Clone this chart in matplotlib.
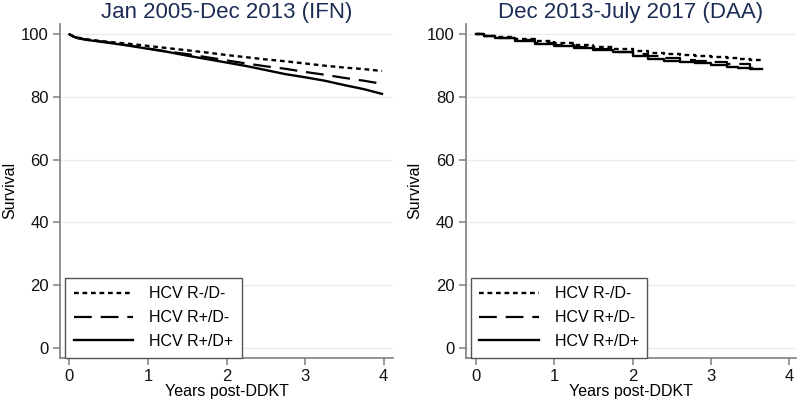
import matplotlib
matplotlib.use("Agg")
import matplotlib.pyplot as plt

plt.rcParams["font.family"] = ["Liberation Sans", "DejaVu Sans"]

# Kaplan-Meier survival (years, survival %)
ifn_t = [0, 0.05, 0.1, 0.2, 0.35, 0.5, 0.75, 1.0, 1.25, 1.5, 1.75, 2.0, 2.25, 2.5, 2.75, 3.0, 3.25, 3.5, 3.75, 3.98]
ifn_nn = [100, 99.4, 99.0, 98.5, 98.0, 97.6, 97.0, 96.3, 95.6, 94.9, 94.2, 93.4, 92.7, 92.0, 91.4, 90.7, 90.0, 89.4, 88.9, 88.3]
ifn_pn = [100, 99.3, 98.9, 98.4, 97.9, 97.4, 96.5, 95.5, 94.5, 93.7, 92.7, 91.7, 90.7, 89.8, 89.0, 88.0, 87.1, 86.1, 85.2, 84.2]
ifn_pp = [100, 99.3, 98.8, 98.3, 97.8, 97.3, 96.4, 95.4, 94.4, 93.2, 92.1, 91.0, 89.9, 88.6, 87.3, 86.3, 85.2, 83.8, 82.5, 81.0]

daa_t = [0, 0.1, 0.25, 0.5, 0.75, 1.0, 1.25, 1.5, 1.75, 2.0, 2.2, 2.4, 2.6, 2.8, 3.0, 3.2, 3.35, 3.5, 3.65]
daa_nn = [100, 99.6, 99.1, 98.5, 97.8, 97.2, 96.6, 96.0, 95.3, 94.6, 94.2, 93.8, 93.5, 93.1, 92.7, 92.4, 92.1, 91.8, 91.6]
daa_pn = [100, 99.5, 98.9, 98.1, 97.2, 96.5, 95.9, 95.2, 94.4, 93.6, 93.0, 92.4, 91.9, 91.6, 91.2, 90.6, 90.4, 89.3, 89.1]
daa_pp = [100, 99.5, 98.8, 97.9, 97.0, 96.2, 95.6, 95.0, 94.3, 93.1, 92.0, 91.6, 91.2, 90.9, 90.3, 89.6, 89.4, 88.9, 88.9]

series_labels = ["HCV R-/D-", "HCV R+/D-", "HCV R+/D+"]
titles = ["Jan 2005-Dec 2013 (IFN)", "Dec 2013-July 2017 (DAA)"]

styles = [(0, (2.0, 1.6)), (0, (8, 4)), "-"]
widths = [1.7, 1.6, 1.7]

fig = plt.figure(figsize=(8.0, 4.01), dpi=100)
ax1 = fig.add_axes([60 / 800, 43.3 / 401, 333 / 800, 333.7 / 401])
ax2 = fig.add_axes([465.7 / 800, 43.3 / 401, 330 / 800, 333.7 / 401])

# IFN era has many events -> looks smooth; DAA era has visible steps
panels = [
    (ax1, ifn_t, [ifn_nn, ifn_pn, ifn_pp], (-0.12, 4.12), "default"),
    (ax2, daa_t, [daa_nn, daa_pn, daa_pp], (-0.13, 4.08), "steps-post"),
]

for i, (ax, t, ys, xl, ds) in enumerate(panels):
    for y, lab, ls, lw in zip(ys, series_labels, styles, widths):
        ax.plot(t, y, drawstyle=ds, color="black", linestyle=ls,
                linewidth=lw, label=lab)
    ax.set_xlim(*xl)
    ax.set_ylim(-3.2, 103.3)
    ax.set_xticks([0, 1, 2, 3, 4])
    ax.set_yticks([0, 20, 40, 60, 80, 100])
    ax.yaxis.grid(True, color="#e6eff1", linewidth=1.0)
    ax.set_axisbelow(True)
    for s in ["top", "right"]:
        ax.spines[s].set_visible(False)
    for s in ["left", "bottom"]:
        ax.spines[s].set_color("#7f7f7f")
        ax.spines[s].set_linewidth(1.2)
    ax.tick_params(direction="out", color="#7f7f7f", length=5, width=1.1,
                   labelsize=12, labelcolor="#111111", pad=3)
    ax.set_title(titles[i], fontsize=16, color="#1c2d55", pad=4)
    ax.set_xlabel("Years post-DDKT", fontsize=11.5, labelpad=0)
    ax.set_ylabel("Survival", fontsize=11.5, labelpad=3)
    leg = ax.legend(loc="lower left", bbox_to_anchor=(0.015, 0.0), borderaxespad=0,
                    fontsize=11.5, handlelength=3.7, handletextpad=1.0,
                    labelspacing=0.55, borderpad=0.55, fancybox=False,
                    framealpha=1, edgecolor="#555555")
    leg.get_frame().set_linewidth(1.0)

fig.savefig("out.png", dpi=100)
